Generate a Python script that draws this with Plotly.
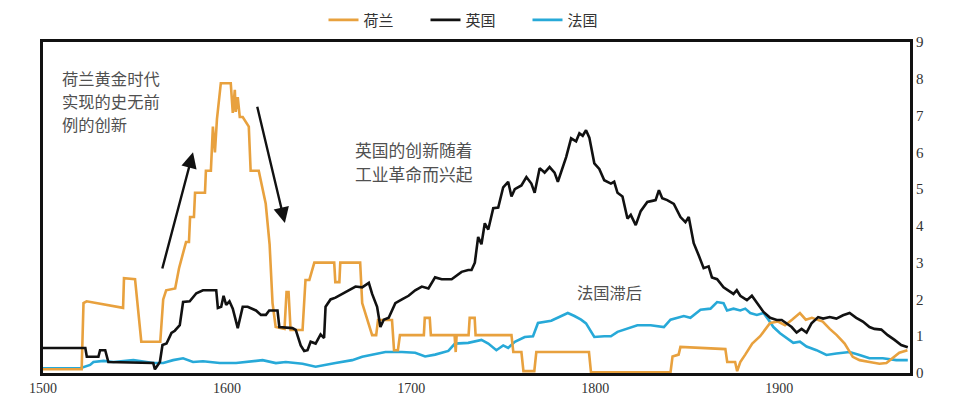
import plotly.graph_objects as go

# ---------------- data ----------------
nl_years = [1500, 1521, 1522, 1523.7, 1543.5, 1544, 1550, 1551.8, 1553.4, 1563.7, 1565.3, 1566.9,
            1571.8, 1573.9, 1577.7, 1579.3, 1579.9, 1582, 1582.6, 1588, 1588.5, 1591.2, 1592.3,
            1593.4, 1594.5, 1596.6, 1602, 1603.1, 1604.2, 1604.7, 1605.8, 1606.9, 1608.5, 1611.8,
            1612.8, 1617.2, 1618.2, 1621, 1623.1, 1624.7, 1626.4, 1631.2, 1632.3, 1633.4, 1634.5,
            1641, 1642.6, 1644.7, 1647.4, 1658.2, 1658.8, 1661, 1661.5, 1672.3, 1673.4, 1676.1,
            1678.8, 1681, 1682, 1689.6, 1690.7, 1692.8, 1693.9, 1706.9, 1707.4, 1710.1, 1710.7,
            1723.6, 1724.2, 1724.7, 1731.2, 1731.8, 1734.5, 1735, 1754.5, 1755.5, 1759.9, 1761,
            1766.9, 1768, 1796.6, 1797.7, 1840.9, 1842, 1845.3, 1846.3, 1870.7, 1871.7, 1876,
            1877.1, 1878.8, 1881.5, 1885.3, 1889.6, 1895, 1899.3, 1903.1, 1906.9, 1911.2, 1914.4,
            1917.7, 1923.6, 1927.4, 1931.2, 1935.5, 1939.9, 1943.6, 1949, 1954.4, 1958.2, 1961.5,
            1965.2, 1969.6]
nl_values = [0.1, 0.1, 1.9, 1.95, 1.77, 2.58, 2.55, 1.6, 0.85, 0.85, 2.0, 2.25,
             2.3, 2.85, 3.56, 3.56, 4.24, 4.24, 4.9, 4.9, 5.5, 5.5, 6.7,
             6.0, 6.9, 7.88, 7.88, 7.07, 7.7, 7.1, 7.5, 6.96, 6.96, 6.7,
             5.5, 5.5, 5.24, 4.6, 3.5, 1.9, 1.25, 1.2, 2.2, 2.2, 1.17,
             1.17, 2.53, 2.53, 3.0, 3.0, 2.47, 2.47, 3.0, 3.0, 1.9, 1.44,
             1.03, 1.03, 1.44, 1.44, 0.62, 0.62, 1.03, 1.03, 1.5, 1.5, 1.03,
             1.03, 0.57, 1.03, 1.03, 1.5, 1.5, 1.03, 1.03, 0.57, 0.57, 0.05,
             0.05, 0.57, 0.57, 0.02, 0.02, 0.45, 0.5, 0.71, 0.65, 0.3, 0.3,
             0.05, 0.3, 0.5, 0.8, 1.0, 1.36, 1.4, 1.3, 1.45, 1.63, 1.45,
             1.5, 1.4, 1.2, 1.03, 0.8, 0.44, 0.35, 0.3, 0.25, 0.27, 0.4,
             0.55, 0.62]

uk_years = [1500, 1523, 1523.8, 1530.1, 1531, 1533.8, 1535.5, 1559.9, 1560.8, 1563.5, 1564.9,
            1567.1, 1569.8, 1571.6, 1574.3, 1576.1, 1579.7, 1581.5, 1583.3, 1586.9, 1594.1, 1595,
            1596.8, 1598.1, 1599.5, 1601.3, 1603.1, 1605.8, 1608.5, 1611.2, 1615.7, 1618.4, 1621.1,
            1622.9, 1627.4, 1628.4, 1635.5, 1637.3, 1640, 1641.9, 1643.7, 1645.4, 1648.1, 1650.8,
            1652.7, 1653.5, 1656.2, 1658.9, 1662.6, 1666.2, 1669.8, 1673.4, 1677, 1678.8, 1681.5,
            1683.3, 1685.1, 1687.8, 1691.4, 1695, 1698.6, 1702.2, 1705.8, 1709.4, 1713, 1716.6,
            1722, 1727.4, 1731, 1732.8, 1734.6, 1736.4, 1738.2, 1740, 1741.9, 1744.6, 1747.3,
            1750, 1752.7, 1754.5, 1756.3, 1759.9, 1762.6, 1765.3, 1767.1, 1769.8, 1772.5, 1775.2,
            1777.9, 1779.7, 1781.5, 1784.2, 1786.9, 1789.6, 1791.4, 1793.2, 1795, 1796.8, 1799.5,
            1802.2, 1804.9, 1808.5, 1810.3, 1812.1, 1814.8, 1817.5, 1819.3, 1822, 1824.7, 1828.3,
            1831, 1832.8, 1834.6, 1836.4, 1839.1, 1842.7, 1846.3, 1849, 1850.8, 1853.5, 1856.2,
            1858.9, 1861.6, 1863.4, 1866.2, 1869.7, 1875.1, 1876.9, 1878.8, 1882.4, 1885.1, 1887.8,
            1891.4, 1895, 1898.6, 1901.3, 1904, 1906.7, 1909.4, 1912.1, 1914.8, 1917.5, 1921.1,
            1923.8, 1927.4, 1931, 1934.6, 1938.2, 1941.8, 1945.4, 1949, 1951.7, 1955.4, 1958.9,
            1962.6, 1966.2, 1969.8]
uk_values = [0.68, 0.68, 0.44, 0.44, 0.62, 0.62, 0.3, 0.27, 0.1, 0.3, 0.76,
             0.8, 1.09, 1.15, 1.3, 1.93, 1.95, 2.05, 2.17, 2.25, 2.25, 1.77,
             1.8, 2.1, 1.85, 1.95, 1.75, 1.22, 1.8, 1.8, 1.7, 1.58, 1.58,
             1.7, 1.7, 1.25, 1.22, 1.17, 0.75, 0.6, 0.62, 0.85, 0.8, 1.05,
             0.95, 1.8, 2.0, 2.05, 2.15, 2.25, 2.35, 2.33, 2.45, 2.15, 1.8,
             1.25, 1.45, 1.5, 1.9, 2.0, 2.1, 2.25, 2.35, 2.3, 2.6, 2.55,
             2.55, 2.75, 2.8, 2.8, 3.0, 3.7, 3.5, 4.07, 3.9, 4.48, 4.5,
             5.05, 5.2, 4.8, 5.0, 5.1, 5.33, 5.15, 4.9, 5.57, 5.45, 5.6,
             5.45, 5.2, 5.45, 5.87, 6.38, 6.3, 6.52, 6.45, 6.6, 6.4, 5.7,
             5.55, 5.24, 5.15, 5.2, 4.9, 4.8, 4.2, 4.3, 4.02, 4.4, 4.65,
             4.68, 4.7, 4.97, 4.75, 4.7, 4.6, 4.24, 4.1, 4.24, 3.53, 3.2,
             2.85, 2.9, 2.6, 2.55, 2.33, 2.15, 2.25, 2.1, 1.98, 2.1, 1.9,
             1.66, 1.5, 1.44, 1.44, 1.35, 1.25, 1.1, 1.2, 1.1, 1.35, 1.52,
             1.48, 1.52, 1.48, 1.57, 1.63, 1.5, 1.4, 1.25, 1.2, 1.18, 1.03,
             0.9, 0.76, 0.7]

fr_years = [1500, 1520.2, 1525.6, 1527.4, 1532.9, 1538.3, 1549.1, 1559.9, 1565.3, 1570.7, 1576.1,
            1581.5, 1586.9, 1596, 1604.9, 1619.3, 1626.5, 1631.9, 1641, 1648.1, 1658.9, 1668,
            1673.4, 1686, 1695, 1702.2, 1707.6, 1713, 1720.2, 1723.8, 1731, 1738.2, 1741.9,
            1746.3, 1750, 1752.7, 1756.3, 1761.7, 1766.2, 1768.9, 1776.1, 1780.6, 1785.1, 1788.7,
            1792.3, 1795, 1796.8, 1799.5, 1804.9, 1808.5, 1812.1, 1817.5, 1822.9, 1830.1, 1837.3,
            1840.9, 1848.1, 1851.7, 1857.2, 1862.6, 1866.2, 1869.7, 1871.6, 1875.1, 1878.8, 1881.5,
            1884.2, 1887.8, 1891.4, 1894.1, 1896.8, 1900.4, 1904, 1907.6, 1911.2, 1914.8, 1920.2,
            1925.6, 1931, 1938.2, 1943.6, 1949, 1956.2, 1963.5, 1969.8]
fr_values = [0.13, 0.13, 0.22, 0.3, 0.33, 0.3, 0.35, 0.27, 0.27, 0.35, 0.4,
             0.3, 0.32, 0.27, 0.27, 0.35, 0.27, 0.3, 0.25, 0.17, 0.27, 0.35,
             0.44, 0.57, 0.57, 0.55, 0.45, 0.5, 0.6, 0.8, 0.82, 0.9, 0.8,
             0.62, 0.75, 0.68, 0.85, 0.98, 1.0, 1.36, 1.42, 1.52, 1.63, 1.55,
             1.45, 1.35, 1.2, 0.98, 1.0, 1.0, 1.12, 1.2, 1.3, 1.3, 1.25,
             1.45, 1.55, 1.5, 1.72, 1.75, 1.93, 1.9, 1.7, 1.75, 1.7, 1.75,
             1.63, 1.58, 1.63, 1.45, 1.25, 1.08, 0.95, 0.82, 0.85, 0.72, 0.62,
             0.49, 0.53, 0.57, 0.49, 0.4, 0.4, 0.35, 0.35]

series_names = ["荷兰", "英国", "法国"]
series_colors = ["#E8A13E", "#111111", "#27A9D8"]
x_ticks = [1500, 1600, 1700, 1800, 1900]
y_ticks = [0, 1, 2, 3, 4, 5, 6, 7, 8, 9]

note_nl = ["荷兰黄金时代", "实现的史无前", "例的创新"]
note_uk = ["英国的创新随着", "工业革命而兴起"]
note_fr = "法国滞后"

# ---------------- figure ----------------
fig = go.Figure()
all_x = [nl_years, uk_years, fr_years]
all_y = [nl_values, uk_values, fr_values]
draw_order = [2, 0, 1]  # France at the bottom, UK on top
for i in draw_order:
    fig.add_trace(go.Scatter(x=all_x[i], y=all_y[i], mode="lines", name=series_names[i],
                             legendrank=i + 1,
                             line=dict(color=series_colors[i], width=2.6)))

note_color = "#505050"
for k, line in enumerate(note_nl):
    fig.add_annotation(x=1509.2, y=8.02 - k * 0.63, xref="x", yref="y", xanchor="left",
                       yanchor="middle", showarrow=False, text=line,
                       font=dict(family="Noto Sans CJK SC", size=16.3, color=note_color))
for k, line in enumerate(note_uk):
    fig.add_annotation(x=1668.4, y=6.06 - k * 0.64, xref="x", yref="y", xanchor="left",
                       yanchor="middle", showarrow=False, text=line,
                       font=dict(family="Noto Sans CJK SC", size=16.8, color=note_color))
fig.add_annotation(x=1808, y=2.2, xref="x", yref="y", xanchor="center", yanchor="middle",
                   showarrow=False, text=note_fr,
                   font=dict(family="Noto Sans CJK SC", size=16.3, color=note_color))
# arrows
fig.add_annotation(x=1581.5, y=6.0, ax=1564.6, ay=2.8, xref="x", yref="y", axref="x", ayref="y",
                   showarrow=True, arrowhead=2, arrowsize=1.3, arrowwidth=2.4, arrowcolor="#111111",
                   text="")
fig.add_annotation(x=1631.4, y=4.08, ax=1616.2, ay=7.28, xref="x", yref="y", axref="x", ayref="y",
                   showarrow=True, arrowhead=2, arrowsize=1.3, arrowwidth=2.4, arrowcolor="#111111",
                   text="")

fig.update_layout(
    width=957, height=410,
    margin=dict(l=43, r=47, t=42, b=37, autoexpand=False),
    paper_bgcolor="white", plot_bgcolor="white",
    font=dict(family="Liberation Serif", size=14, color="#333333"),
    legend=dict(orientation="h", x=0.5, xanchor="center", y=1.066, yanchor="middle",
                font=dict(family="Noto Sans CJK SC", size=15, color="#333333"),
                traceorder="normal", itemwidth=30, entrywidth=57, entrywidthmode="pixels"),
    showlegend=True,
)
fig.update_xaxes(range=[1500, 1971], tickvals=x_ticks, ticks="", showgrid=False, zeroline=False,
                 showline=True, linecolor="#111111", linewidth=3, mirror=True,
                 tickfont=dict(family="Liberation Serif", size=14, color="#333333"))
fig.update_yaxes(range=[0, 9], tickvals=y_ticks, side="right", ticks="", showgrid=False,
                 zeroline=False, showline=True, linecolor="#111111", linewidth=3, mirror=True,
                 tickfont=dict(family="Liberation Serif", size=15, color="#333333"))

fig.write_html("out.html", config={"displayModeBar": False},
               post_script="document.body.style.margin='0';document.body.style.padding='0';")
